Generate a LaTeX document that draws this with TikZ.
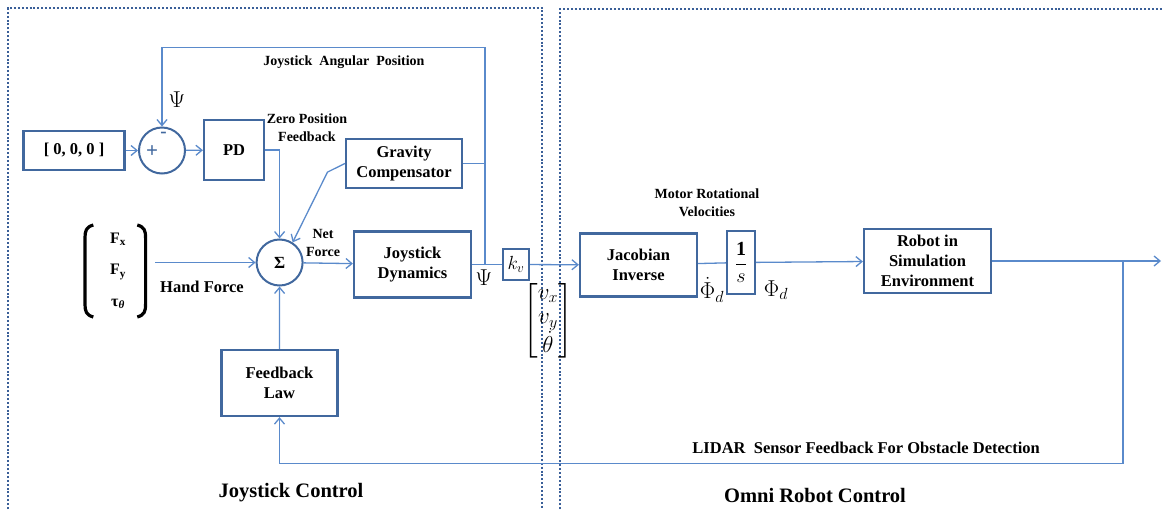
\RequirePackage{fix-cm}
\documentclass[tikz,border=0pt]{standalone}
\usepackage{amsmath}
\usepackage{fontspec}
\setmainfont{Liberation Serif}
\usetikzlibrary{positioning, arrows.meta, calc}
\definecolor{boxblue}{HTML}{41689E}
\definecolor{wireblue}{HTML}{5A8ACB}
\definecolor{dotblue}{HTML}{3A5F98}

\begin{document}
\begin{tikzpicture}[
    x=1pt, y=-1pt,
    >={Straight Barb[length=6pt,width=10pt]},
    blk/.style={draw=boxblue, line width=2.2pt, fill=white, align=center,
                inner sep=1pt, font=\bfseries\fontsize{16.5}{20}\selectfont},
    sumnode/.style={circle, draw=boxblue, line width=2pt, minimum size=46pt,
                    inner sep=0pt, font=\bfseries\fontsize{17}{19}\selectfont},
    wire/.style={draw=wireblue, line width=1.3pt},
    lbl/.style={font=\bfseries\fontsize{14}{18}\selectfont, align=center, inner sep=0pt},
    biglbl/.style={font=\bfseries\fontsize{16.5}{20}\selectfont, inner sep=0pt},
    title/.style={font=\bfseries\fontsize{20.5}{24}\selectfont, inner sep=0pt},
    sym/.style={font=\fontsize{23}{24}\selectfont, inner sep=0pt},
    frame/.style={draw=dotblue, line width=2pt, dash pattern=on 2pt off 1.9pt},
    brkt/.style={draw=black, line width=3.2pt},
]
\useasboundingbox (0,0) rectangle (1162,509);

% dotted panels
\draw[frame] (8,509) -- (8,8) -- (542,8) -- (542,509);
\draw[frame] (560,509) -- (560,9) -- (1162,9);

% joystick side
\node[blk, minimum width=101pt, minimum height=39pt] (zero) at (74,150.5) {[ 0, 0, 0 ]};
\node[sumnode] (sum1) at (162,150.5) {};
\node[font=\bfseries\fontsize{21}{21}\selectfont, text=boxblue, inner sep=0pt] (plus) at (152,152) {+};
\node[font=\bfseries\fontsize{19}{19}\selectfont, text=boxblue, inner sep=0pt] (minus) at (163.5,135) {-};
\node[blk, minimum width=60pt, minimum height=60pt] (pd) at (234,150) {PD};
\node[blk, minimum width=116pt, minimum height=49pt] (grav) at (404,163.5) {Gravity\\Compensator};
\node[sumnode] (sum2) at (279.6,262.5) {Σ};
\node[blk, minimum width=117pt, minimum height=66pt] (jdyn) at (412.5,264.5) {Joystick\\Dynamics};
\node[blk, line width=2pt, inner sep=0pt, minimum width=26pt, minimum height=31pt,
      font=\fontsize{19}{20}\selectfont] (kv) at (516,264.5) {$k_v$};
\node[blk, minimum width=116pt, minimum height=66pt] (fblaw) at (279.5,383) {Feedback\\Law};

% hand force vector
\node[font=\bfseries\fontsize{16}{31.5}\selectfont, align=center, inner sep=0pt] (hand) at (118,271)
     {F\textsubscript{x}\\F\textsubscript{y}\\τ\textsubscript{\textit{θ}}};
\begin{scope}[shift={(hand.center)}]
\draw[brkt] (-24.7,-46) .. controls (-32,-44) and (-33,-40) .. (-33,-33) -- (-33,33)
            .. controls (-33,40) and (-32,44) .. (-24.7,46);
\draw[brkt] (19.3,-46) .. controls (26.6,-44) and (27.6,-40) .. (27.6,-33) -- (27.6,33)
            .. controls (27.6,40) and (26.6,44) .. (19.3,46);
\end{scope}
\coordinate (handout) at (155,262.5);

% robot side
\node[blk, minimum width=117pt, minimum height=63pt] (jacinv) at (638.5,265) {Jacobian\\Inverse};
\node[blk, minimum width=28pt, minimum height=63pt, inner sep=0pt,
      font=\fontsize{20}{22}\selectfont] (integ) at (741,262.5) {$\dfrac{\mathbf{1}}{s}$};
\node[blk, minimum width=127pt, minimum height=64pt] (robot) at (927.5,261) {Robot in\\Simulation\\Environment};

% labels
\node[lbl] (angpos) at (344,62) {Joystick\ \ Angular\ \ Position};
\node[sym] (psitop) at (177,100) {$\Psi$};
\node[lbl] (zerofb) at (307,128) {Zero Position\\Feedback};
\node[lbl] (netf) at (323,243) {Net\\Force};
\node[biglbl] (handf) at (202,287) {Hand Force};
\node[sym] (psiout) at (484,278) {$\Psi$};
\node[inner sep=0pt, anchor=north, font=\fontsize{23}{24.5}\selectfont] (vel) at (548,282)
     {$\begin{bmatrix} v_x\\ v_y\\ \dot{\theta} \end{bmatrix}$};
\node[lbl] (motor) at (707,203) {Motor Rotational\\Velocities};
\node[sym] (phidot) at (712,290) {$\dot{\Phi}_d$};
\node[sym] (phid) at (776,290) {$\Phi_d$};
\node[biglbl, anchor=east] (lidartxt) at (1040,447.7) {LIDAR\ \ Sensor Feedback For Obstacle Detection};
\node[title] (jtitle) at (291,493) {Joystick Control};
\node[title] (otitle) at (815,495) {Omni Robot Control};

% signal lines
\coordinate (tap) at (485,264.5);
\coordinate (outend) at (1161,261);
\coordinate (lidar) at (1123,261);
\draw[wire,->] (zero) -- (sum1);
\draw[wire,->] (sum1) -- (pd);
\draw[wire,->] (pd.east) -| (sum2.north);
\draw[wire,->] (grav.west) -- ++(-17.4,8.6) -- (sum2.57);
\draw[wire] (grav.east) -- (grav.east -| tap);
\draw[wire,->] (tap) -- ++(0,-216.8) -| (sum1.north);
\draw[wire,->] (handout) -- (sum2.west);
\draw[wire,->] (sum2) -- (jdyn);
\draw[wire,->] (fblaw) -- (sum2);
\draw[wire] (jdyn) -- (kv);
\draw[wire,->] (kv) -- (jacinv);
\draw[wire] (jacinv) -- (integ);
\draw[wire,->] (integ) -- (robot);
\draw[wire,->] (robot) -- (outend);
\draw[wire,->] (lidar) -- ++(0,202.3) -| (fblaw.south);
\end{tikzpicture}
\end{document}
